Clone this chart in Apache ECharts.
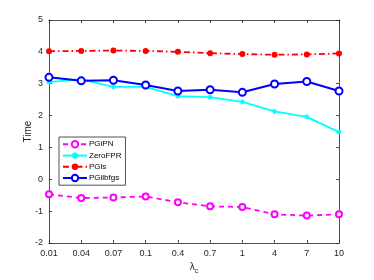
<!DOCTYPE html>
<html><head><meta charset="utf-8">
<script src="https://cdn.jsdelivr.net/npm/echarts@6/dist/echarts.min.js"></script>
<style>html,body{margin:0;padding:0;background:#fff}#c{width:374px;height:280px}</style>
</head><body><div id="c"></div>
<script>
const categories = ['0.01','0.04','0.07','0.1','0.4','0.7','1','4','7','10'];
const pgipn = [-0.47,-0.59,-0.57,-0.54,-0.72,-0.85,-0.87,-1.10,-1.14,-1.10];
const zerofpr = [3.05,3.14,2.90,2.90,2.61,2.58,2.43,2.13,1.96,1.48];
const pgls = [4.02,4.03,4.04,4.03,4.00,3.96,3.93,3.91,3.92,3.95];
const pgilbfgs = [3.20,3.09,3.11,2.96,2.77,2.81,2.73,2.99,3.07,2.77];
const yTicks = [-2,-1,0,1,2,3,4,5];

const font = 'Liberation Sans, Arial, sans-serif';
const axisCol = '#262626';
const asterisk = 'path://M5,0L5,10M0,5L10,5M1.5,1.5L8.5,8.5M8.5,1.5L1.5,8.5';
const chart = echarts.init(document.getElementById('c'), null, {renderer:'canvas'});
chart.setOption({
  animation:false,
  backgroundColor:'#fff',
  grid:{left:49,right:35,top:20,bottom:33,containLabel:false},
  xAxis:[{
    type:'category',data:categories,boundaryGap:false,
    name:'{a|λ}{s|c}',nameLocation:'middle',nameGap:17,nameMoveOverlap:false,
    nameTextStyle:{rich:{a:{fontSize:10,fontFamily:font,color:axisCol},s:{fontSize:7,fontFamily:font,color:axisCol,padding:[8,0,0,0]}}},
    axisLine:{onZero:false,lineStyle:{color:axisCol,width:0.8}},
    axisTick:{inside:true,length:3,lineStyle:{color:axisCol,width:0.8}},
    axisLabel:{fontFamily:font,fontSize:9,color:axisCol,margin:6},
    splitLine:{show:false}
  },{
    type:'category',data:categories,boundaryGap:false,position:'top',
    axisLine:{onZero:false,lineStyle:{color:axisCol,width:0.8}},
    axisTick:{inside:true,length:3,lineStyle:{color:axisCol,width:0.8}},
    axisLabel:{show:false}
  }],
  yAxis:[{
    type:'value',min:-2,max:5,interval:1,
    name:'Time',nameLocation:'middle',nameGap:16,nameMoveOverlap:false,
    nameTextStyle:{fontFamily:font,fontSize:10,color:axisCol},
    axisLine:{show:true,onZero:false,lineStyle:{color:axisCol,width:0.8}},
    axisTick:{show:true,inside:true,length:3,lineStyle:{color:axisCol,width:0.8}},
    axisLabel:{fontFamily:font,fontSize:9,color:axisCol,margin:6,
      formatter:v=>yTicks.includes(v)?String(v):''},
    splitLine:{show:false}
  },{
    type:'value',min:-2,max:5,interval:1,position:'right',
    axisLine:{show:true,onZero:false,lineStyle:{color:axisCol,width:0.8}},
    axisTick:{show:true,inside:true,length:3,lineStyle:{color:axisCol,width:0.8}},
    axisLabel:{show:false},splitLine:{show:false}
  }],
  legend:{
    orient:'vertical',left:59,top:137,
    itemWidth:24,itemHeight:8,itemGap:3,
    padding:[3,4,3,3],
    borderColor:'#262626',borderWidth:0.8,backgroundColor:'#fff',
    textStyle:{fontFamily:font,fontSize:8,color:'#000',padding:[0,0,0,-3]},
    data:['PGiPN','ZeroFPR','PGls','PGilbfgs']
  },
  series:[
    {name:'PGiPN',type:'line',data:pgipn,symbol:'emptyCircle',symbolSize:6,
     lineStyle:{color:'#ff00ff',width:1.8,type:[5,4]},
     itemStyle:{color:'#ff00ff',borderColor:'#ff00ff',borderWidth:1.8}},
    {name:'ZeroFPR',type:'line',data:zerofpr,symbol:asterisk,symbolSize:5,
     lineStyle:{color:'#00ffff',width:1.8},
     itemStyle:{color:'#00ffff',borderColor:'#00ffff',borderWidth:1.2}},
    {name:'PGls',type:'line',data:pgls,symbol:'circle',symbolSize:6,
     lineStyle:{color:'#ff0000',width:1.8,type:[6,3,1.5,3]},
     itemStyle:{color:'#ff0000'}},
    {name:'PGilbfgs',type:'line',data:pgilbfgs,symbol:'emptyCircle',symbolSize:7,
     lineStyle:{color:'#0000ff',width:2},
     itemStyle:{color:'#0000ff',borderColor:'#0000ff',borderWidth:1.8}}
  ]
});
</script></body></html>
